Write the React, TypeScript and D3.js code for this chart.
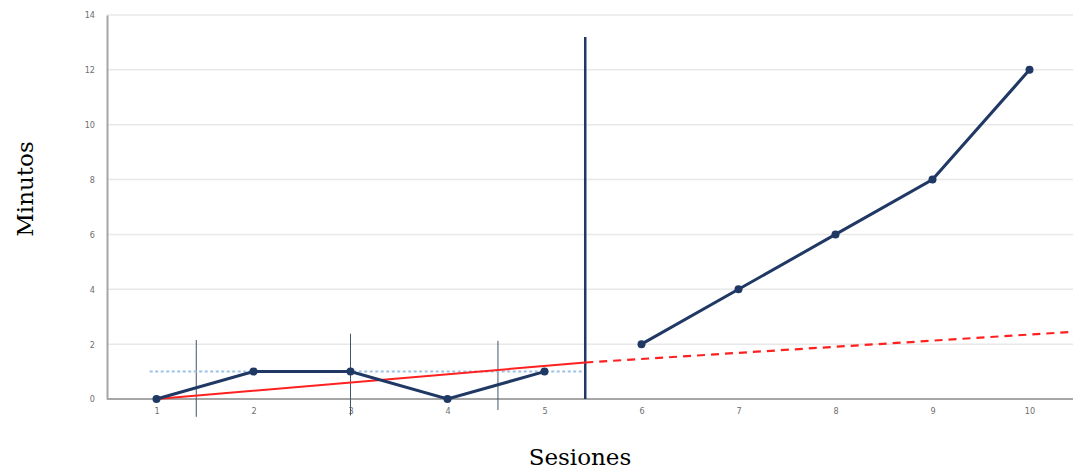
import React, { useRef, useEffect } from 'react';
import * as d3 from 'd3';

// Sesiones y minutos
const sessions = [1, 2, 3, 4, 5, 6, 7, 8, 9, 10];
const baselineValues = [0, 1, 1, 0, 1];
const treatmentValues = [2, 4, 6, 8, 12];
const yTicks = [0, 2, 4, 6, 8, 10, 12, 14];

// Línea de tendencia (sesión, minutos) y media de la línea base
const trendSolid = [[1, 0], [5.42, 1.33]];
const trendDashed = [[5.42, 1.33], [10.45, 2.45]];
const baselineMean = 1;
const meanSpan = [0.93, 5.42];

// Separadores de fase
const phaseChange = 5.42;
const minorSeparators = [
  { s: 1.41, top: 2.15, bottom: -0.65 },
  { s: 3, top: 2.38, bottom: -0.6 },
  { s: 4.52, top: 2.12, bottom: -0.4 },
];

const W = 1073;
const H = 470;
const NAVY = '#203864';

export default function App() {
  const ref = useRef<SVGSVGElement>(null);

  useEffect(() => {
    if (!ref.current) return;
    const svg = d3.select(ref.current);
    svg.selectAll('*').remove();

    const left = 107, right = 1073, top = 15, bottom = 399;

    const step = (1078 - 108) / sessions.length;
    const x = d3.scaleLinear()
      .domain([1, 10])
      .range([108 + step / 2, 108 + step / 2 + 9 * step]);
    const y = d3.scaleLinear().domain([0, 14]).range([bottom, top]);

    // Gridlines
    svg.append('g')
      .selectAll('line')
      .data(yTicks.filter(d => d > 0))
      .join('line')
      .attr('x1', left).attr('x2', right)
      .attr('y1', d => y(d)).attr('y2', d => y(d))
      .attr('stroke', '#e8e8e8')
      .attr('stroke-width', 1.5);

    // Y axis
    const yAxis = svg.append('g')
      .attr('transform', `translate(${left},0)`)
      .call(d3.axisLeft(y).tickValues(yTicks).tickSize(0).tickPadding(12));
    yAxis.select('.domain').attr('stroke', '#a6a6a6').attr('stroke-width', 2);
    yAxis.selectAll('text')
      .attr('fill', '#6e6e6e')
      .style('font-family', '"Liberation Sans Narrow", "DejaVu Sans Condensed", sans-serif')
      .style('font-size', '9px');

    // X axis
    const xAxis = svg.append('g')
      .attr('transform', `translate(0,${bottom})`)
      .call(d3.axisBottom(x).tickValues(sessions).tickFormat(d3.format('d')).tickSize(0).tickPadding(9));
    xAxis.select('.domain').attr('d', `M${left},0H${right}`).attr('stroke', '#a6a6a6').attr('stroke-width', 2);
    xAxis.selectAll('text')
      .attr('fill', '#6e6e6e')
      .style('font-family', '"Liberation Sans Narrow", "DejaVu Sans Condensed", sans-serif')
      .style('font-size', '9px');

    // Minor phase separators
    svg.append('g')
      .selectAll('line')
      .data(minorSeparators)
      .join('line')
      .attr('x1', d => x(d.s)).attr('x2', d => x(d.s))
      .attr('y1', d => y(d.top)).attr('y2', d => y(d.bottom))
      .attr('stroke', '#44546a')
      .attr('stroke-width', 1);

    // Baseline mean (dotted)
    svg.append('line')
      .attr('x1', x(meanSpan[0])).attr('x2', x(meanSpan[1]))
      .attr('y1', y(baselineMean)).attr('y2', y(baselineMean))
      .attr('stroke', '#9cc2e5')
      .attr('stroke-width', 2)
      .attr('stroke-dasharray', '3,2.5');

    // Phase change line
    svg.append('line')
      .attr('x1', x(phaseChange)).attr('x2', x(phaseChange))
      .attr('y1', y(13.2)).attr('y2', y(0))
      .attr('stroke', NAVY)
      .attr('stroke-width', 2.5);

    const line = d3.line<number[]>().x(d => x(d[0])).y(d => y(d[1]));

    // Trend
    svg.append('path')
      .attr('d', line(trendSolid))
      .attr('fill', 'none')
      .attr('stroke', '#ff2020')
      .attr('stroke-width', 2);
    svg.append('path')
      .attr('d', line(trendDashed))
      .attr('fill', 'none')
      .attr('stroke', '#ff2020')
      .attr('stroke-width', 2.2)
      .attr('stroke-dasharray', '8,6');

    // Data series (two phases)
    const phases = [
      baselineValues.map((v, i) => [sessions[i], v]),
      treatmentValues.map((v, i) => [sessions[i + baselineValues.length], v]),
    ];
    phases.forEach(pts => {
      svg.append('path')
        .attr('d', line(pts))
        .attr('fill', 'none')
        .attr('stroke', NAVY)
        .attr('stroke-width', 3);
      svg.append('g')
        .selectAll('circle')
        .data(pts)
        .join('circle')
        .attr('cx', d => x(d[0]))
        .attr('cy', d => y(d[1]))
        .attr('r', 4)
        .attr('fill', NAVY);
    });

    // Axis titles
    svg.append('text')
      .attr('transform', `translate(33,189) rotate(-90)`)
      .attr('text-anchor', 'middle')
      .style('font-family', '"DejaVu Serif", serif')
      .style('font-size', '23px')
      .attr('fill', '#000')
      .text('Minutos');
    svg.append('text')
      .attr('x', 580)
      .attr('y', 465)
      .attr('text-anchor', 'middle')
      .style('font-family', '"DejaVu Serif", serif')
      .style('font-size', '23px')
      .attr('fill', '#000')
      .text('Sesiones');
  }, []);

  return (
    <svg
      ref={ref}
      width={W}
      height={H}
      style={{ position: 'absolute', left: 0, top: 0, background: '#fff' }}
    />
  );
}
